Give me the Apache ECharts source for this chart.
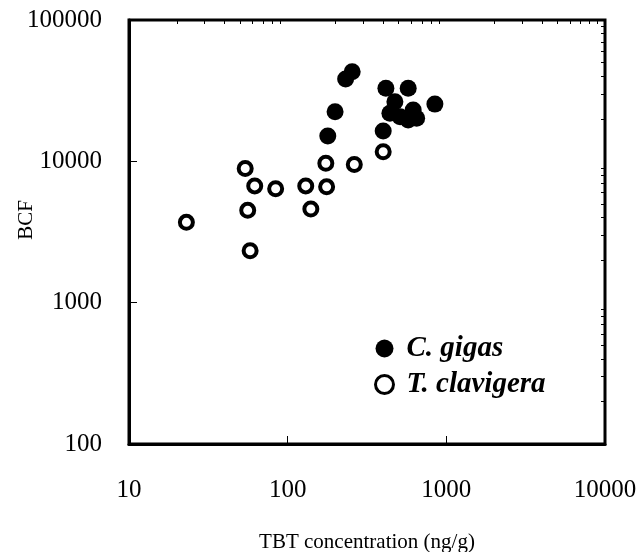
<!DOCTYPE html>
<html lang="en">
<head>
    <meta http-equiv="Content-Type" content="text/html; charset=UTF-8">
    <title>BCF vs TBT concentration</title>
    <script type="text/javascript" src="https://cdn.jsdelivr.net/npm/echarts@6/dist/echarts.min.js"></script>
</head>
<body style="margin:0;width:641px;height:552px;background:#fff">
<div id="main" style="width:641px;height:552px"></div>
<script type="text/javascript">
    // C. gigas (filled)
    var gigasTBT = [179, 199, 232, 255, 416, 400, 575, 847, 474, 441, 618, 575, 511, 650];
    var gigasBCF = [15100, 22400, 38200, 43000, 32900, 16400, 32900, 25400, 26400, 21900, 23100, 19600, 20700, 20200];
    // T. clavigera (open)
    var clavTBT = [54, 62, 84, 56, 23, 58, 130, 176, 140, 174, 263, 400];
    var clavBCF = [8900, 6700, 6400, 4500, 3700, 2330, 6700, 6600, 4600, 9700, 9500, 11700];

    var xMajor = [10, 100, 1000, 10000];
    var yMajor = [100, 1000, 10000, 100000];

    // minor ticks 2..9 of each decade
    function minors(from, to) {
        var out = [];
        for (var d = from; d < to; d *= 10) {
            for (var k = 2; k <= 9; k++) out.push(d * k);
        }
        return out;
    }

    function pairs(xs, ys) {
        return xs.map(function (x, i) { return [x, ys[i]]; });
    }

    function plain(v) { return String(Math.round(v)); }

    var font = 'Liberation Serif';
    var myChart = echarts.init(document.getElementById('main'));

    var baseX = {
        type: 'log', min: 10, max: 10000, logBase: 10,
        splitLine: { show: false }
    };
    var baseY = {
        type: 'log', min: 100, max: 100000, logBase: 10,
        splitLine: { show: false }
    };

    myChart.setOption({
        animation: false,
        grid: {
            left: 129, right: 36, top: 20, bottom: 108,
            outerBoundsMode: 'none', containLabel: false,
            show: true, borderColor: '#000', borderWidth: 3
        },
        legend: {
            left: 369, top: 329, orient: 'vertical', itemGap: 7,
            itemWidth: 18, itemHeight: 18,
            textStyle: { fontFamily: font, fontStyle: 'italic', fontWeight: 'bold', fontSize: 29, color: '#000', padding: [0, 0, 0, 8] },
            data: [
                { name: 'C. gigas', icon: 'circle', itemStyle: { color: '#000', borderWidth: 0 } },
                { name: 'T. clavigera', icon: 'circle', itemStyle: { color: '#fff', borderColor: '#000', borderWidth: 3 } }
            ]
        },
        xAxis: [
            Object.assign({}, baseX, {
                name: 'TBT concentration (ng/g)', nameLocation: 'middle', nameGap: 88,
                nameTextStyle: { fontFamily: font, fontSize: 21, color: '#000' },
                axisLine: { lineStyle: { color: '#000', width: 3 } },
                axisTick: { inside: true, length: 8, customValues: xMajor, lineStyle: { color: '#000', width: 1 } },
                axisLabel: { margin: 34, fontFamily: font, fontSize: 25, color: '#000', customValues: xMajor, formatter: plain }
            }),
            Object.assign({}, baseX, {
                axisLine: { show: false },
                axisTick: { inside: true, length: 4, customValues: minors(10, 10000), lineStyle: { color: '#000', width: 1 } },
                axisLabel: { show: false }
            })
        ],
        yAxis: [
            Object.assign({}, baseY, {
                name: 'BCF', nameLocation: 'middle', nameGap: 92, nameMoveOverlap: false,
                nameTextStyle: { fontFamily: font, fontSize: 21, color: '#000', padding: [0, 0, 0, 24] },
                axisLine: { lineStyle: { color: '#000', width: 3 } },
                axisTick: { inside: true, length: 8, customValues: yMajor, lineStyle: { color: '#000', width: 1 } },
                axisLabel: { margin: 27, fontFamily: font, fontSize: 25, color: '#000', customValues: yMajor, formatter: plain }
            }),
            Object.assign({}, baseY, {
                axisLine: { show: false },
                axisTick: { inside: true, length: 4, customValues: minors(100, 100000), lineStyle: { color: '#000', width: 1 } },
                axisLabel: { show: false }
            })
        ],
        series: [
            {
                name: 'C. gigas', type: 'scatter', symbol: 'circle', symbolSize: 17,
                itemStyle: { color: '#000', opacity: 1 },
                data: pairs(gigasTBT, gigasBCF)
            },
            {
                name: 'T. clavigera', type: 'scatter', symbol: 'circle', symbolSize: 13,
                itemStyle: { color: '#fff', borderColor: '#000', borderWidth: 4, opacity: 1 },
                data: pairs(clavTBT, clavBCF)
            }
        ]
    });
</script>
</body>
</html>
